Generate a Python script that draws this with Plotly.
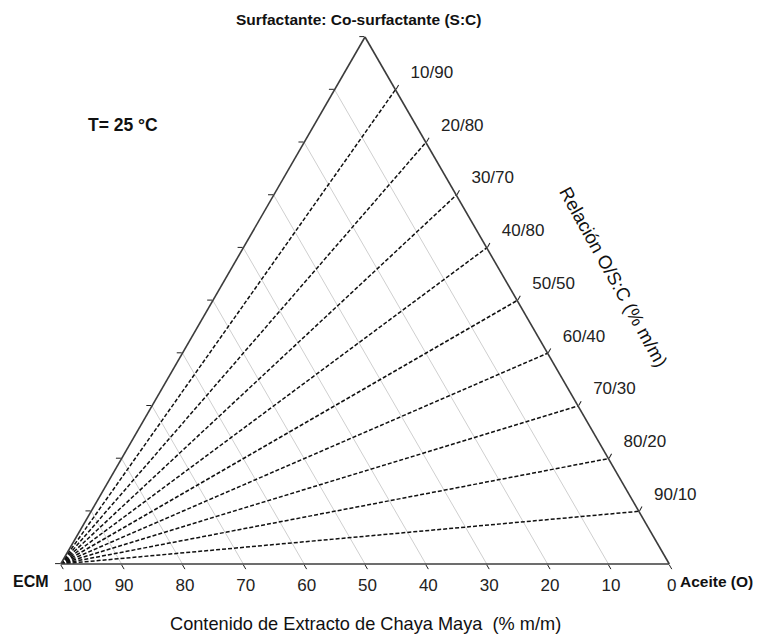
import plotly.graph_objects as go

# Oil / surfactant-mix ratios on the S:C - Aceite edge (O/S:C, % m/m)
oil_pct = [10, 20, 30, 40, 50, 60, 70, 80, 90]
sc_pct = [90, 80, 70, 60, 50, 40, 30, 20, 10]
ratio_labels = ["10/90", "20/80", "30/70", "40/80", "50/50",
                "60/40", "70/30", "80/20", "90/10"]

# Chaya Maya extract content ticks (bottom axis)
ecm_ticks = [100, 90, 80, 70, 60, 50, 40, 30, 20, 10, 0]
ecm_ticktext = ["\u00a0\u00a0\u00a0\u00a0\u00a0\u00a0100", "90", "80", "70", "60",
                "50", "40", "30", "20", "10", "0"]
edge_ticks = [0, 10, 20, 30, 40, 50, 60, 70, 80, 90, 100]

FONT = "Liberation Sans, Arial, sans-serif"

fig = go.Figure()

# Dilution lines: from the pure extract corner to each O/S:C point
la, lb, lc = [], [], []
for o, s in zip(oil_pct, sc_pct):
    la += [0, s, None]
    lb += [100, 0, None]
    lc += [0, o, None]
fig.add_trace(go.Scatterternary(
    a=la, b=lb, c=lc, mode="lines",
    line=dict(color="#111111", width=1.5, dash="4px,2px"),
    hoverinfo="skip", showlegend=False,
))

# Ratio tick labels, nudged right and up away from the edge
ratio_ticktext = ["\u00a0\u00a0" + t + "<br>\u00a0" for t in ratio_labels]

line_style = dict(min=0, linecolor="#3c3c3c", linewidth=1.6,
                  ticks="outside", ticklen=5, tickwidth=1.2, tickcolor="#222222",
                  title=dict(text=""))

fig.update_layout(
    width=757, height=635,
    paper_bgcolor="white",
    margin=dict(l=50, r=77, t=37, b=71),
    showlegend=False,
    ternary=dict(
        sum=100,
        bgcolor="white",
        aaxis=dict(**line_style, tickmode="array", tickvals=edge_ticks,
                   showticklabels=False, showgrid=False),
        baxis=dict(**line_style, tickmode="array", tickvals=ecm_ticks,
                   ticktext=ecm_ticktext, tickangle=0,
                   tickfont=dict(family=FONT, size=17, color="#222222"),
                   showgrid=True, gridcolor="#cfcfcf", gridwidth=1),
        caxis=dict(**line_style, tickmode="array", tickvals=oil_pct,
                   ticktext=ratio_ticktext,
                   tickfont=dict(family=FONT, size=17, color="#222222"),
                   showticklabels=True, showgrid=False),
    ),
)

def note(text, x, y, size, bold=False, angle=0):
    fig.add_annotation(
        text=f"<b>{text}</b>" if bold else text,
        x=x, y=y, xref="paper", yref="paper",
        xanchor="center", yanchor="middle", showarrow=False,
        textangle=angle,
        font=dict(family=FONT, size=size, color="#111111"),
    )

note("Surfactante: Co-surfactante (S:C)", 0.4889, 1.034, 15.5, bold=True)
note("T= 25 °C", 0.1151, 0.833, 17.5, bold=True)
note("ECM", -0.0305, -0.0323, 16, bold=True)
note("Aceite (O)", 1.0576, -0.0332, 15.5, bold=True)
note("Contenido de Extracto de Chaya Maya\u00a0 (% m/m)", 0.5, -0.1148, 18.2)
note("Relación O/S:C (% m/m)", 0.8937, 0.5446, 18.5, angle=61)

fig.write_html("out.html")
